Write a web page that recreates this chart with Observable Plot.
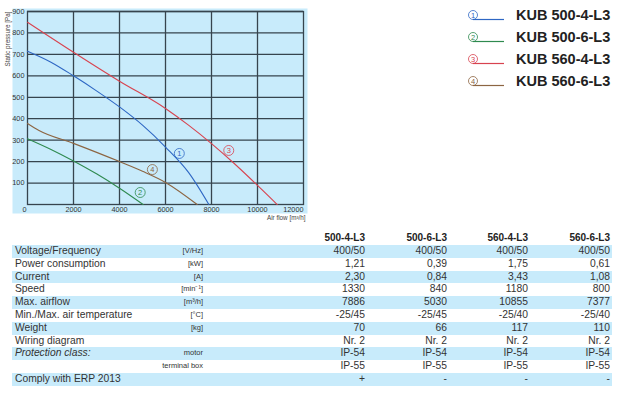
<!DOCTYPE html>
<html>
<head>
<meta charset="utf-8">
<script src="https://cdn.jsdelivr.net/npm/d3@7"></script>
<script src="https://cdn.jsdelivr.net/npm/@observablehq/plot@0.6"></script>
<style>
  body { margin: 0; background: #fff; font-family: "Liberation Sans", Arial, sans-serif; }
  #wrap { position: relative; width: 624px; height: 394px; overflow: hidden; }
  #chart { position: absolute; left: 0; top: 0; }
  #legend { position: absolute; left: 0; top: 0; }
  .lg { position: absolute; left: 465px; height: 16px; }
  .lg svg { position: absolute; left: 0; top: 0; }
  .lg span { position: absolute; left: 51px; top: -1px; font-weight: bold; font-size: 14.5px; color: #222; white-space: nowrap; }
  #table { position: absolute; left: 12px; top: 230px; border-collapse: collapse; table-layout: fixed; width: 600px; }
  #table td { padding: 0; height: 12.8px; line-height: 12.8px; font-size: 10.3px; color: #333; white-space: nowrap; overflow: visible; }
  #table tr.hd td { height: 15px; line-height: 15px; font-weight: bold; color: #222; font-size: 10px; }
  #table tr.band td { background: #c8ebfb; }
  #table td.lab { padding-left: 3px; }
  #table td.unit { text-align: right; font-size: 7.5px; padding-right: 2px; }
  #table td.val { text-align: right; padding-right: 2px; }
  #table td.it { font-style: italic; }
</style>
</head>
<body>
<div id="wrap">
  <div id="chart"></div>
  <div id="legend"></div>
  <table id="table"></table>
</div>
<script>
// ---- Data ----
const models = ["KUB 500-4-L3", "KUB 500-6-L3", "KUB 560-4-L3", "KUB 560-6-L3"];
const shortModels = ["500-4-L3", "500-6-L3", "560-4-L3", "560-6-L3"];
const colors = ["#2e67c4", "#2f8a4f", "#d8434f", "#8c6542"];

// Curves: airflow [m3/h] and static pressure [Pa]
const flow1 = [0, 1000, 2000, 3000, 4000, 5000, 6000, 7000, 7886];
const pres1 = [715, 665, 600, 530, 455, 370, 268, 150, 0];
const flow2 = [0, 1000, 2000, 3000, 4000, 5030];
const pres2 = [307, 258, 203, 143, 76, 0];
const flow3 = [0, 2000, 4000, 6000, 7000, 8000, 9000, 10000, 10855];
const pres3 = [850, 710, 575, 448, 370, 284, 190, 89, 0];
const flow4 = [0, 500, 2000, 4000, 5000, 6000, 7377];
const pres4 = [378, 345, 285, 200, 155, 103, 0];

// curve-number label positions (airflow, pressure)
const labelFlow = [6600, 4900, 8750, 5430];
const labelPres = [238, 56, 252, 163];

const xTicks = [2000, 4000, 6000, 8000, 10000];
const yTicks = [100, 200, 300, 400, 500, 600, 700, 800, 900];

// Table
const rowLabels = ["Voltage/Frequency", "Power consumption", "Current", "Speed", "Max. airflow",
  "Min./Max. air temperature", "Weight", "Wiring diagram", "Protection class:", "", "Comply with ERP 2013"];
const rowUnits = ["[V/Hz]", "[kW]", "[A]", "[min\u207B\u00B9]", "[m\u00B3/h]", "[\u00B0C]", "[kg]", "", "motor", "terminal box", ""];
const col1 = ["400/50", "1,21", "2,30", "1330", "7886", "-25/45", "70", "Nr. 2", "IP-54", "IP-55", "+"];
const col2 = ["400/50", "0,39", "0,84", "840", "5030", "-25/45", "66", "Nr. 2", "IP-54", "IP-55", "-"];
const col3 = ["400/50", "1,75", "3,43", "1180", "10855", "-25/40", "117", "Nr. 2", "IP-54", "IP-55", "-"];
const col4 = ["400/50", "0,61", "1,08", "800", "7377", "-25/40", "110", "Nr. 2", "IP-54", "IP-55", "-"];

// ---- Build chart ----
const flows = [flow1, flow2, flow3, flow4];
const press = [pres1, pres2, pres3, pres4];
const curves = [];
flows.forEach((f, i) => f.forEach((v, j) => curves.push({s: i, flow: v, p: press[i][j]})));
const labels = labelFlow.map((f, i) => ({s: i, flow: f, p: labelPres[i], t: String(i + 1)}));

const grid = "#36444e";
const fmt = d => String(d);
const chart = Plot.plot({
  width: 318,
  height: 224,
  marginLeft: 27,
  marginRight: 15,
  marginTop: 11,
  marginBottom: 20,
  style: {fontFamily: "'Liberation Sans', Arial, sans-serif", background: "transparent", overflow: "visible"},
  x: {domain: [0, 12000]},
  y: {domain: [0, 900]},
  marks: [
    Plot.frame({fill: "#c8ebfb", insetLeft: -15, insetTop: -3, insetRight: -4, insetBottom: -9}),
    Plot.gridX(xTicks, {stroke: grid, strokeOpacity: 1, strokeWidth: 1.3}),
    Plot.gridY(yTicks, {stroke: grid, strokeOpacity: 1, strokeWidth: 1.3}),
    Plot.frame({stroke: grid, strokeWidth: 1.3}),
    Plot.axisY({ticks: yTicks, tickFormat: fmt, tickSize: 0, tickPadding: 3, fontSize: 7.3, fill: "#333", label: null}),
    Plot.axisX({ticks: xTicks, tickFormat: fmt, tickSize: 0, tickPadding: 2, fontSize: 7.3, fill: "#333", label: null}),
    Plot.text(["0"], {frameAnchor: "bottom-left", dx: -5, dy: 5, fontSize: 7.3, fill: "#333", lineAnchor: "middle"}),
    Plot.text(["12000"], {frameAnchor: "bottom-right", dy: 5, textAnchor: "end", fontSize: 7.3, fill: "#333", lineAnchor: "middle"}),
    Plot.text(["Static pressure [Pa]"], {frameAnchor: "top-left", dx: -22, dy: 0, rotate: -90, textAnchor: "end", fontSize: 6.3, fill: "#444"}),
    Plot.text(["Air flow [m\u00B3/h]"], {frameAnchor: "bottom-right", dx: 2, dy: 15, textAnchor: "end", fontSize: 6.3, fill: "#444"}),
    Plot.line(curves, {x: "flow", y: "p", z: "s", stroke: d => colors[d.s], strokeWidth: 1.1, curve: "monotone-x"}),
    Plot.dot(labels, {x: "flow", y: "p", r: 5, stroke: d => colors[d.s], strokeWidth: 0.8, fill: "none"}),
    Plot.text(labels, {x: "flow", y: "p", text: "t", fill: d => colors[d.s], fontSize: 7.5})
  ]
});
document.getElementById("chart").appendChild(chart);

// ---- Legend ----
const legendTops = [8, 30, 52, 74];
const legend = document.getElementById("legend");
models.forEach((m, i) => {
  const row = document.createElement("div");
  row.className = "lg";
  row.style.top = legendTops[i] + "px";
  row.innerHTML =
    `<svg width="44" height="16"><circle cx="8" cy="7" r="4.5" fill="none" stroke="${colors[i]}" stroke-width="0.8"/>` +
    `<text x="8" y="9.6" text-anchor="middle" font-size="7.5" fill="${colors[i]}" font-family="Liberation Sans, Arial">${i + 1}</text>` +
    `<line x1="8" y1="11.5" x2="39" y2="11.5" stroke="${colors[i]}" stroke-width="1.2"/></svg>` +
    `<span>${m}</span>`;
  legend.appendChild(row);
});

// ---- Table ----
const table = document.getElementById("table");
const colW = [148, 45, 162, 82, 81, 82];
const cg = document.createElement("colgroup");
colW.forEach(w => { const c = document.createElement("col"); c.style.width = w + "px"; cg.appendChild(c); });
table.appendChild(cg);
const hd = document.createElement("tr");
hd.className = "hd";
hd.innerHTML = `<td></td><td></td>` + shortModels.map(s => `<td class="val">${s}</td>`).join("");
table.appendChild(hd);
rowLabels.forEach((lab, i) => {
  const tr = document.createElement("tr");
  if (i % 2 === 0) tr.className = "band";
  tr.innerHTML = `<td class="lab${i === 8 ? " it" : ""}">${lab}</td><td class="unit">${rowUnits[i]}</td>` +
    [col1, col2, col3, col4].map(c => `<td class="val">${c[i]}</td>`).join("");
  table.appendChild(tr);
});
</script>
</body>
</html>
